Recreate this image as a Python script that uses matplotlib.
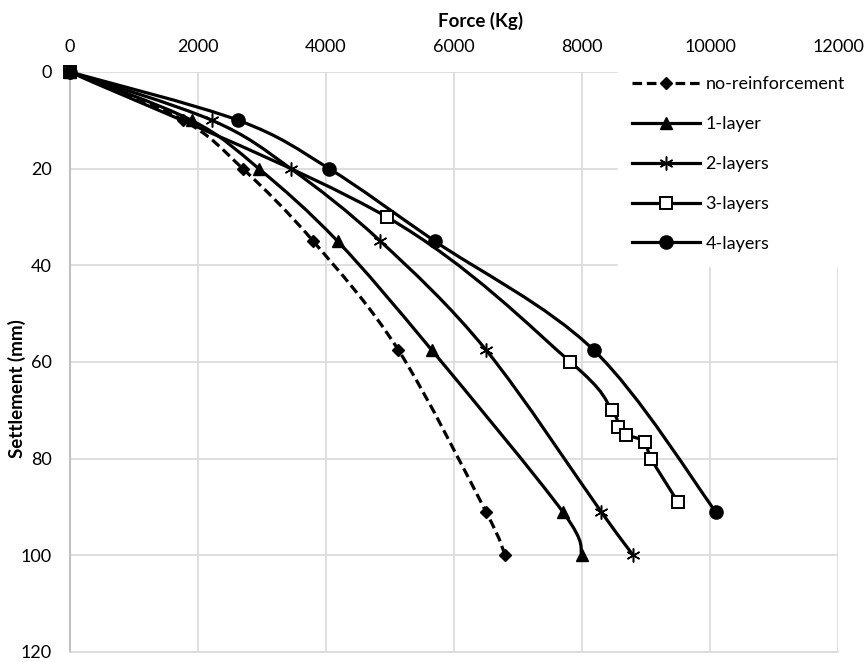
import numpy as np
import matplotlib
matplotlib.use("Agg")
import matplotlib.pyplot as plt
from matplotlib.path import Path
from matplotlib.patches import PathPatch
from matplotlib.lines import Line2D

plt.rcParams['font.family'] = ['Lato', 'DejaVu Sans']

# force (Kg) vs settlement (mm)
f_none = [0, 1770, 2700, 3800, 5130, 6500, 6800]
s_none = [0, 10, 20, 35, 57.5, 91, 100]
f_1 = [0, 1900, 2950, 4180, 5650, 7700, 8000]
s_1 = [0, 10, 20, 35, 57.5, 91, 100]
f_2 = [0, 2220, 3450, 4850, 6500, 8300, 8800]
s_2 = [0, 10, 20, 35, 57.5, 91, 100]
f_3 = [0, 4950, 7820, 8470, 8570, 8680, 8980, 9080, 9500]
s_3 = [0, 30, 60, 70, 73.5, 75, 76.5, 80, 89]
f_4 = [0, 2630, 4050, 5700, 8180, 10090]
s_4 = [0, 10, 20, 35, 57.5, 91]

labels = ['no-reinforcement', '1-layer', '2-layers', '3-layers', '4-layers']
xticks = [0, 2000, 4000, 6000, 8000, 10000, 12000]
yticks = [0, 20, 40, 60, 80, 100, 120]


def smooth_path(x, y):
    # excel style smoothed line: catmull-rom as cubic bezier segments
    p = np.column_stack([x, y]).astype(float)
    verts = [p[0]]
    codes = [Path.MOVETO]
    n = len(p)
    for i in range(n - 1):
        p0 = p[i - 1] if i > 0 else p[i]
        p1 = p[i]
        p2 = p[i + 1]
        p3 = p[i + 2] if i + 2 < n else p2
        c1 = p1 + (p2 - p0) / 6.0
        c2 = p2 - (p3 - p1) / 6.0
        verts += [c1, c2, p2]
        codes += [Path.CURVE4] * 3
    return Path(verts, codes)


fig = plt.figure(figsize=(8.65, 6.62), dpi=100)
ax = fig.add_axes([70 / 865, 1 - 652 / 662, 768 / 865, 580 / 662])

series = [
    (f_none, s_none, dict(marker='D', ms=6.5, mfc='black', mec='black', mew=1), (0, (3, 1.5))),
    (f_1, s_1, dict(marker='^', ms=8.5, mfc='black', mec='black', mew=1), '-'),
    (f_2, s_2, dict(marker=(6, 2, 0), ms=10, mfc='black', mec='black', mew=1.1), '-'),
    (f_3, s_3, dict(marker='s', ms=8.5, mfc='white', mec='black', mew=1.4), '-'),
    (f_4, s_4, dict(marker='o', ms=9.5, mfc='black', mec='black', mew=1), '-'),
]

lw = 2.3
handles = []
for (x, y, mk, ls), lab in zip(series, labels):
    patch = PathPatch(smooth_path(x, y), fill=False, ec='black', lw=lw,
                      ls=ls, capstyle='butt', zorder=3)
    ax.add_patch(patch)
    ax.plot(x, y, ls='none', zorder=4, clip_on=False, **mk)
    handles.append(Line2D([], [], color='black', lw=lw, ls=ls, **mk))

ax.set_xlim(0, 12000)
ax.set_ylim(120, 0)
ax.set_xticks(xticks)
ax.set_yticks(yticks)
ax.xaxis.tick_top()
ax.tick_params(axis='both', length=0, labelsize=13, colors='black')
ax.tick_params(axis='x', pad=12)
ax.tick_params(axis='y', pad=13)
ax.grid(True, color='#d9d9d9', lw=1.2)
ax.set_axisbelow(True)
for side in ['top', 'right']:
    ax.spines[side].set_visible(False)
ax.spines['left'].set_color('#bfbfbf')
ax.spines['left'].set_linewidth(1.5)
ax.spines['bottom'].set_color('#d9d9d9')
ax.spines['bottom'].set_linewidth(1.2)

ax.set_xlabel('Force (Kg)', fontsize=13.5, fontweight='bold')
ax.xaxis.set_label_position('top')
ax.xaxis.set_label_coords(0.535, 1.078)
ax.set_ylabel('Settlement (mm)', fontsize=13.5, fontweight='bold')
ax.yaxis.set_label_coords(-0.057, 0.455)

leg = ax.legend(handles, labels, loc='upper left',
                bbox_to_anchor=(618 / 865, 1 - 62 / 662),
                bbox_transform=fig.transFigure, fontsize=13,
                frameon=True, fancybox=False, borderaxespad=0,
                borderpad=0.8, labelspacing=1.32, handlelength=3.75,
                handletextpad=0.3, numpoints=1)
leg.get_frame().set_facecolor('white')
leg.get_frame().set_edgecolor('white')
leg.get_frame().set_alpha(1)

fig.savefig('out.png', dpi=100)
